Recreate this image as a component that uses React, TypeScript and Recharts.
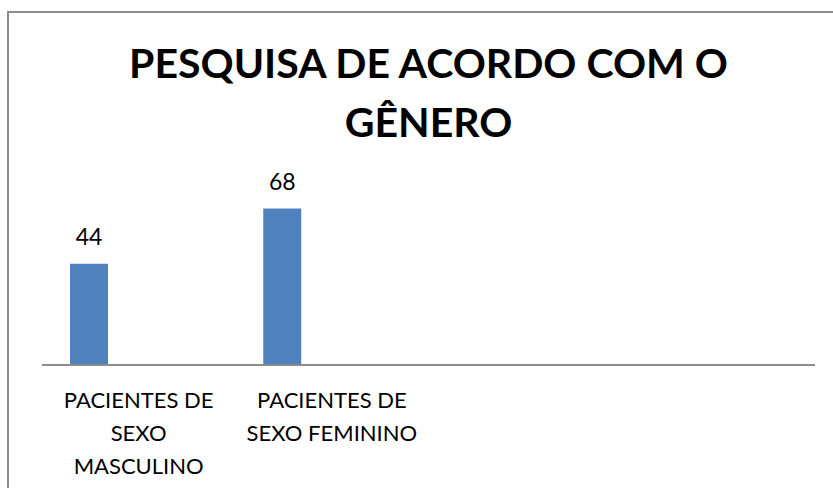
import React from 'react';
import { BarChart, Bar, XAxis, YAxis, LabelList } from 'recharts';

const categories = ['PACIENTES DE\nSEXO\nMASCULINO', 'PACIENTES DE\nSEXO FEMININO', '', ''];
const pacientes = [44, 68, null, null];
// the sheet has two more (empty) series, they push the bars to the left of each band
const serie2 = [null, null, null, null];
const serie3 = [null, null, null, null];

const data = categories.map((name, i) => ({
  name,
  pacientes: pacientes[i],
  serie2: serie2[i],
  serie3: serie3[i],
}));

const FONT = 'Lato, "Open Sans", sans-serif';

const CategoryTick = (props: any) => {
  const { x, y, payload } = props;
  const lines = String(payload.value).split('\n');
  return (
    <text x={x} y={y + 43} textAnchor="middle" fontFamily={FONT} fontSize={22} fill="#000">
      {lines.map((line, i) => (
        <tspan key={i} x={x} dy={i === 0 ? 0 : 33}>
          {line}
        </tspan>
      ))}
    </text>
  );
};

export default function App() {
  return (
    <div style={{ position: 'absolute', left: 0, top: 0, width: 833, height: 488, overflow: 'hidden', background: '#fff' }}>
      <div
        style={{
          position: 'absolute',
          left: 7,
          top: 11,
          width: 900,
          height: 600,
          border: '2px solid #8c8c8c',
        }}
      />
      <div
        style={{
          position: 'absolute',
          left: 0,
          top: 33,
          width: 857,
          textAlign: 'center',
          fontFamily: FONT,
          fontWeight: 'bold',
          fontSize: 41,
          lineHeight: '59px',
          color: '#000',
        }}
      >
        PESQUISA DE ACORDO COM O<br />GÊNERO
      </div>
      <div style={{ position: 'absolute', left: 0, top: 0 }}>
        <BarChart
          width={833}
          height={488}
          data={data}
          margin={{ top: 181, right: 18, left: 42, bottom: 93 }}
          barGap={11.5}
        >
          <XAxis
            dataKey="name"
            interval={0}
            height={30}
            tickLine={false}
            tickSize={0}
            tickMargin={0}
            axisLine={{ stroke: '#8c8c8c', strokeWidth: 2 }}
            tick={<CategoryTick />}
          />
          <YAxis hide domain={[0, 80]} />
          <Bar dataKey="pacientes" fill="#4F81BD" barSize={38} isAnimationActive={false}>
            <LabelList
              dataKey="pacientes"
              position="top"
              offset={18.5}
              fontFamily={FONT}
              fontSize={23}
              fill="#000"
            />
          </Bar>
          <Bar dataKey="serie2" fill="#C0504D" barSize={38} isAnimationActive={false} />
          <Bar dataKey="serie3" fill="#9BBB59" barSize={38} isAnimationActive={false} />
        </BarChart>
      </div>
    </div>
  );
}
